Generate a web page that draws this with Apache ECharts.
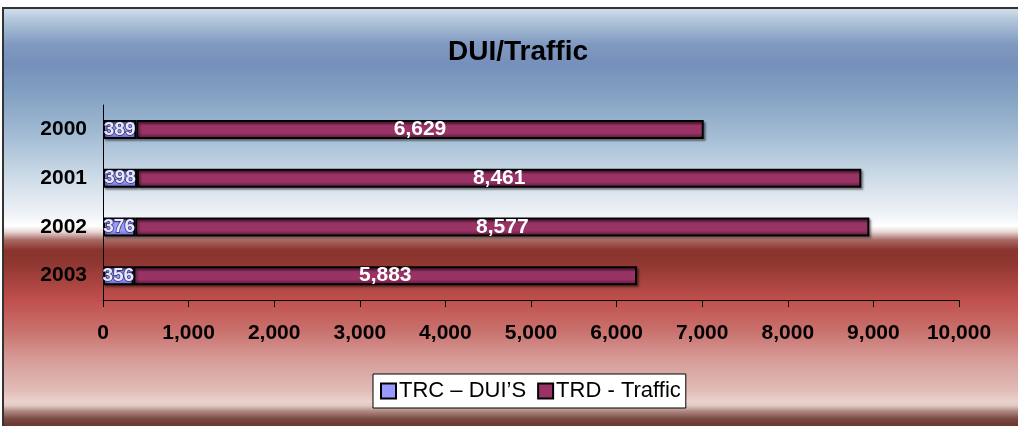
<!DOCTYPE html>
<html>
<head>
<meta charset="utf-8">
<script src="https://cdn.jsdelivr.net/npm/echarts@6/dist/echarts.min.js"></script>
<style>
html,body{margin:0;padding:0;background:#fff;}
#c{width:1018px;height:426px;}
</style>
</head>
<body>
<div id="c"></div>
<script>
var categories = ['2000', '2001', '2002', '2003'];
var trcDuis = [389, 398, 376, 356];
var trdTraffic = [6629, 8461, 8577, 5883];
var seriesNames = ['TRC \u2013 DUI\u2019S', 'TRD - Traffic'];
var chartTitle = 'DUI/Traffic';
var xTicks = [0, 1000, 2000, 3000, 4000, 5000, 6000, 7000, 8000, 9000, 10000];

var FONT = 'Liberation Sans, Arial, sans-serif';
function fmt(v){ return String(v).replace(/\B(?=(\d{3})+(?!\d))/g, ','); }

var bg = new echarts.graphic.LinearGradient(0, 0, 0, 1, [
  {offset: 0, color: '#d5e2ec'},
  {offset: 0.029, color: '#b3c8dc'},
  {offset: 0.088, color: '#8099c0'},
  {offset: 0.136, color: '#7590bb'},
  {offset: 0.219, color: '#86a4c4'},
  {offset: 0.314, color: '#a7bfd6'},
  {offset: 0.41, color: '#d0dde9'},
  {offset: 0.49, color: '#eef2f6'},
  {offset: 0.519, color: '#ffffff'},
  {offset: 0.533, color: '#e8d6d4'},
  {offset: 0.552, color: '#a86a64'},
  {offset: 0.576, color: '#8b342e'},
  {offset: 0.605, color: '#8e3630'},
  {offset: 0.695, color: '#c0504d'},
  {offset: 0.767, color: '#c9716d'},
  {offset: 0.838, color: '#d69d99'},
  {offset: 0.91, color: '#e2bdb8'},
  {offset: 0.935, color: '#ead3ce'},
  {offset: 0.945, color: '#e0c8c3'},
  {offset: 0.957, color: '#b08c85'},
  {offset: 0.976, color: '#7a4a42'},
  {offset: 1, color: '#5e3028'}
]);

var trcFill = new echarts.graphic.LinearGradient(0, 0, 0, 1, [
  {offset: 0, color: '#5c5cb0'},
  {offset: 0.3, color: '#9999ff'},
  {offset: 0.7, color: '#9999ff'},
  {offset: 1, color: '#5c5cb0'}
]);
var trdFill = new echarts.graphic.LinearGradient(0, 0, 0, 1, [
  {offset: 0, color: '#4e1530'},
  {offset: 0.3, color: '#993366'},
  {offset: 0.7, color: '#993366'},
  {offset: 1, color: '#4e1530'}
]);

var chart = echarts.init(document.getElementById('c'), null, {renderer: 'canvas'});
chart.setOption({
  animation: false,
  graphic: [{
    type: 'rect', z: -10, silent: true,
    shape: {x: 3, y: 8, width: 1030, height: 420},
    style: {fill: bg, stroke: '#333', lineWidth: 2}
  }],
  title: {
    text: chartTitle, left: 443, top: 33,
    textStyle: {fontFamily: FONT, fontSize: 28, fontWeight: 'bold', color: '#000'}
  },
  legend: {
    left: 373, top: 374,
    padding: [6, 5, 6, 7],
    backgroundColor: '#fff', borderColor: '#000', borderWidth: 1,
    itemWidth: 15, itemHeight: 15, itemGap: 11,
    icon: 'rect',
    textStyle: {fontFamily: FONT, fontSize: 22, color: '#000', padding: [0, 0, 0, -2]},
    data: [
      {name: seriesNames[0], itemStyle: {color: '#9999ff', borderColor: '#000', borderWidth: 2}},
      {name: seriesNames[1], itemStyle: {color: '#993366', borderColor: '#000', borderWidth: 2}}
    ]
  },
  grid: {left: 103, right: 59, top: 105, bottom: 126, containLabel: false},
  xAxis: {
    type: 'value', min: xTicks[0], max: xTicks[xTicks.length - 1], interval: xTicks[1] - xTicks[0],
    axisLine: {show: true, lineStyle: {color: '#000', width: 1}},
    axisTick: {show: true, length: 7, lineStyle: {color: '#000'}},
    splitLine: {show: false},
    axisLabel: {margin: 23, fontFamily: FONT, fontSize: 21, fontWeight: 'bold', color: '#000', formatter: fmt}
  },
  yAxis: {
    type: 'category', inverse: true, data: categories,
    axisLine: {show: true, lineStyle: {color: '#000', width: 1}},
    axisTick: {show: false},
    axisLabel: {margin: 16, fontFamily: FONT, fontSize: 21, fontWeight: 'bold', color: '#000'}
  },
  series: [{
    name: seriesNames[0], type: 'bar', stack: 'a', barWidth: 19, data: trcDuis,
    itemStyle: {color: trcFill, borderColor: '#000', borderWidth: 2,
      shadowColor: 'rgba(0,0,0,0.35)', shadowOffsetX: 2, shadowOffsetY: 2, shadowBlur: 2},
    label: {show: true, position: 'inside', fontFamily: FONT, fontSize: 19, fontWeight: 'bold',
      color: '#e8e8ff', textBorderColor: 'rgba(20,20,60,0.8)', textBorderWidth: 1.5,
      formatter: function(p){ return fmt(p.value); }}
  }, {
    name: seriesNames[1], type: 'bar', stack: 'a', barWidth: 19, data: trdTraffic,
    itemStyle: {color: trdFill, borderColor: '#000', borderWidth: 2,
      shadowColor: 'rgba(0,0,0,0.35)', shadowOffsetX: 2, shadowOffsetY: 2, shadowBlur: 2},
    label: {show: true, position: 'inside', fontFamily: FONT, fontSize: 21, fontWeight: 'bold',
      color: '#fff', formatter: function(p){ return fmt(p.value); }}
  }]
});
</script>
</body>
</html>
